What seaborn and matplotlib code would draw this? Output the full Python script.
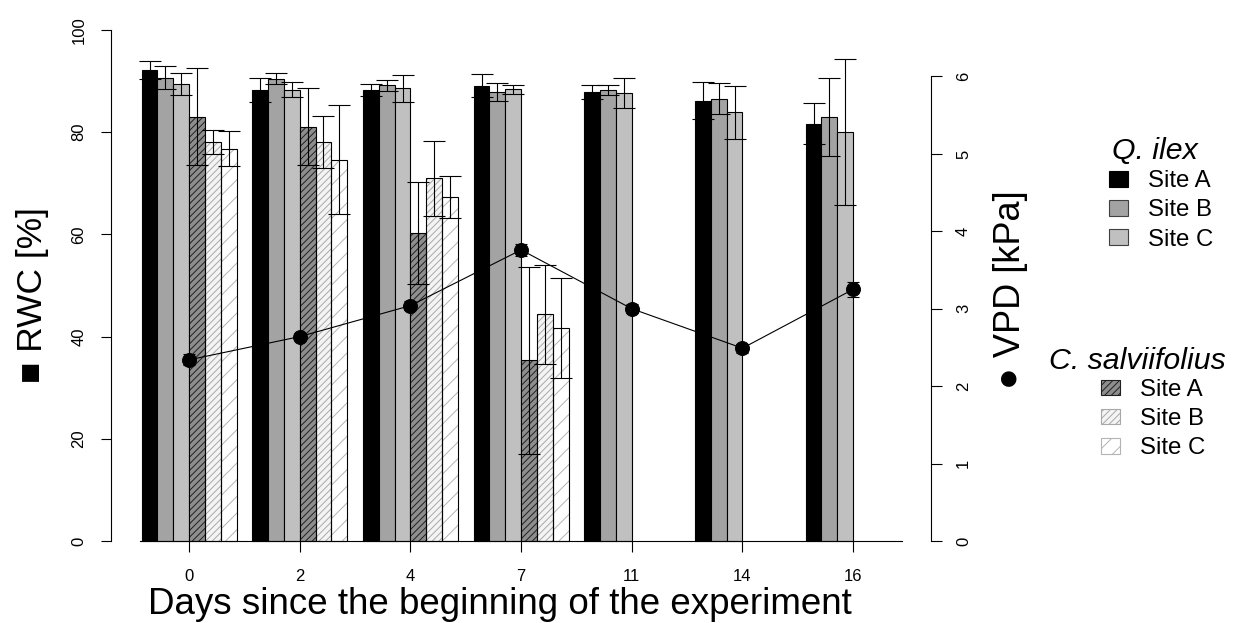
import numpy as np
import pandas as pd
import matplotlib
matplotlib.use("Agg")
import matplotlib.pyplot as plt
import seaborn as sns
from matplotlib.patches import Rectangle, Patch

sns.set_style("ticks")
plt.rcParams["font.family"] = ["Liberation Sans", "DejaVu Sans"]
plt.rcParams["hatch.linewidth"] = 0.7
for key in ["text.color", "axes.labelcolor", "xtick.color", "ytick.color", "axes.edgecolor"]:
    plt.rcParams[key] = "black"

# ---------------- data ----------------
days = ["0", "2", "4", "7", "11", "14", "16"]
series = ["Q. ilex Site A", "Q. ilex Site B", "Q. ilex Site C",
          "C. salviifolius Site A", "C. salviifolius Site B", "C. salviifolius Site C"]

q_a = [92.2, 88.3, 88.3, 89.1, 87.9, 86.2, 81.7]
q_a_err = [1.8, 2.4, 1.2, 2.2, 1.4, 3.6, 4.0]
q_b = [90.7, 90.5, 89.2, 87.9, 88.3, 86.6, 83.0]
q_b_err = [2.3, 1.0, 1.1, 1.8, 0.95, 3.0, 7.6]
q_c = [89.4, 88.3, 88.6, 88.4, 87.7, 83.9, 80.1]
q_c_err = [2.2, 1.5, 2.6, 0.9, 3.0, 5.2, 14.3]
c_a = [83.0, 81.1, 60.3, 35.4, np.nan, np.nan, np.nan]
c_a_err = [9.5, 7.6, 10.0, 18.3, np.nan, np.nan, np.nan]
c_b = [78.1, 78.1, 71.0, 44.4, np.nan, np.nan, np.nan]
c_b_err = [2.3, 5.1, 7.3, 9.7, np.nan, np.nan, np.nan]
c_c = [76.8, 74.6, 67.4, 41.6, np.nan, np.nan, np.nan]
c_c_err = [3.4, 10.7, 4.1, 9.8, np.nan, np.nan, np.nan]

vpd = [2.34, 2.64, 3.04, 3.76, 3.00, 2.49, 3.25]
vpd_err = [0.07, 0.05, 0.06, 0.08, 0.06, 0.06, 0.10]

values = [q_a, q_b, q_c, c_a, c_b, c_c]
errors = [q_a_err, q_b_err, q_c_err, c_a_err, c_b_err, c_c_err]

rows = []
for s, vals in zip(series, values):
    for d, v in zip(days, vals):
        if not np.isnan(v):
            rows.append({"day": d, "series": s, "rwc": v})
df = pd.DataFrame(rows)

# ---------------- styles ----------------
colors = ["#000000", "#a3a3a3", "#c0c0c0", "#8e8e8e", "#f4f4f4", "#ffffff"]
hatch_styles = {3: ("/////", "#202020"), 4: ("/////", "#a8a8a8"), 5: ("//", "#b4b4b4")}

W, H = 1234, 623
fig = plt.figure(figsize=(W / 100, H / 100), dpi=100)
ax = fig.add_axes([111.3 / W, 1 - 561.4 / H, (930.9 - 111.3) / W, (561.4 - 9.6) / H])

sns.barplot(data=df, x="day", y="rwc", hue="series", order=days, hue_order=series,
            palette=colors, width=6 / 7, errorbar=None, edgecolor="black",
            linewidth=0.8, saturation=1, legend=False, ax=ax)

bar_containers = list(ax.containers)
for k, cont in enumerate(bar_containers):
    for p in cont.patches:
        h = p.get_height()
        if np.isnan(h):
            continue
        xc = p.get_x() + p.get_width() / 2
        cat = int(round(xc))
        if k in hatch_styles:
            hatch, hc = hatch_styles[k]
            p.set_hatch(hatch)
            p.set_edgecolor(hc)
            p.set_linewidth(0)
            ax.add_patch(Rectangle((p.get_x(), p.get_y()), p.get_width(), h,
                                   fill=False, ec="black", lw=0.8, zorder=p.get_zorder() + 0.1))
        ax.errorbar(xc, h, yerr=errors[k][cat], fmt="none", ecolor="black",
                    elinewidth=0.8, capsize=8, capthick=0.8, zorder=5)

ax.set_xlim(-0.703, 6.703)
ax.set_ylim(-4, 104)
ax.set_xlabel("")
ax.set_ylabel("")
ax.set_yticks([0, 20, 40, 60, 80, 100])
ax.tick_params(axis="y", direction="out", length=7, width=0.8, pad=11, labelsize=12, labelrotation=90)
ax.tick_params(axis="x", direction="out", length=8, width=0.8, pad=12, labelsize=12)
plt.setp(ax.get_yticklabels(), va="center", ha="right")
for s in ["top", "right"]:
    ax.spines[s].set_visible(False)
ax.spines["left"].set_bounds(0, 100)
ax.spines["left"].set_linewidth(0.8)
ax.spines["bottom"].set_position(("data", 0))
ax.spines["bottom"].set_bounds(-0.443, 6.443)
ax.spines["bottom"].set_linewidth(0.8)

# ---------------- VPD on secondary axis ----------------
ax2 = ax.twinx()
x_idx = np.arange(len(days))
ax2.errorbar(x_idx, vpd, yerr=vpd_err, fmt="none", ecolor="black", elinewidth=0.8,
             capsize=4.5, capthick=0.8, zorder=3)
sns.lineplot(x=x_idx, y=vpd, ax=ax2, color="black", lw=0.8, marker="o",
             markersize=10, markeredgecolor="black", zorder=4)
ax2.set_ylim(-0.264, 6.864)
ax2.set_xlim(-0.703, 6.703)
ax2.set_yticks(range(7))
ax2.tick_params(axis="y", direction="out", length=8, width=0.8, pad=10, labelsize=12, labelrotation=90)
plt.setp(ax2.get_yticklabels(), va="center", ha="left")
for s in ["top", "left", "bottom"]:
    ax2.spines[s].set_visible(False)
ax2.spines["right"].set_bounds(0, 6)
ax2.spines["right"].set_linewidth(0.8)
ax2.set_ylabel("")

# ---------------- labels ----------------
fig.text(500 / W, 1 - 605 / H, "Days since the beginning of the experiment",
         ha="center", va="center", fontsize=26.5)
fig.text(33 / W, 1 - 295 / H, "■ RWC [%]", rotation=90, ha="center", va="center", fontsize=25.5)
fig.text(1010 / W, 1 - 290 / H, "● VPD [kPa]", rotation=90, ha="center", va="center", fontsize=26)

# ---------------- legends ----------------
h1 = [Patch(facecolor=colors[i], edgecolor="black" if i == 0 else "#404040", lw=0.8) for i in range(3)]
h2 = [Patch(facecolor=colors[i], edgecolor=hatch_styles[i][1], hatch=hatch_styles[i][0], lw=0.8)
      for i in range(3, 6)]
site_labels = ["Site A", "Site B", "Site C"]
common = dict(loc="center left", frameon=False, fontsize=17.3, handlelength=0.79, handleheight=0.62,
              handletextpad=0.83, labelspacing=0.3, borderpad=0, borderaxespad=0)
fig.legend(handles=h1, labels=site_labels, bbox_to_anchor=(1109 / W, 1 - 210.4 / H), **common)
fig.legend(handles=h2, labels=site_labels, bbox_to_anchor=(1101 / W, 1 - 419 / H), **common)
fig.text(1155 / W, 1 - 151 / H, "Q. ilex", ha="center", va="center", fontsize=21.8, style="italic")
fig.text(1137.5 / W, 1 - 361 / H, "C. salviifolius", ha="center", va="center", fontsize=21.8,
         style="italic")

fig.savefig("out.png", dpi=100)
